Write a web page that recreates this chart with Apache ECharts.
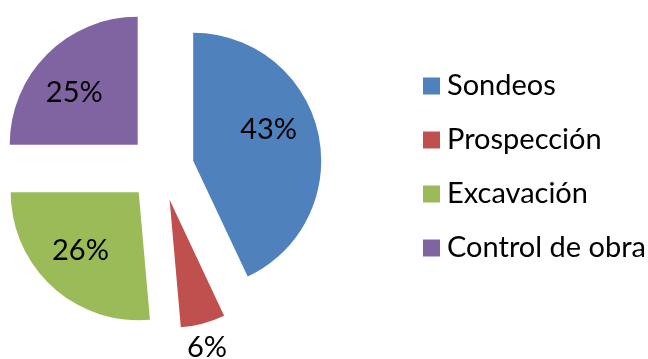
<!DOCTYPE html>
<html><head><meta charset="utf-8">
<script src="https://cdn.jsdelivr.net/npm/echarts@6/dist/echarts.min.js"></script>
<style>html,body{margin:0;padding:0;background:#fff}#c{width:648px;height:359px}</style>
</head><body><div id="c"></div>
<script>
const categories = ['Sondeos', 'Prospección', 'Excavación', 'Control de obra'];
const values = [43.0, 5.6, 26.4, 25.0];

const palette = ['#4F81BD', '#C0504D', '#9BBB59', '#8064A2'];
const FONT = 'Lato';
const FS = 29;
const center = [161, 168];
const R = 128;
const OFFSET = 33;
// label nudges from the default inside position
const labelShift = [[10, -17], [20, 83], [-13, 9], [-16, -5]];

const chart = echarts.init(document.getElementById('c'), null, {renderer: 'canvas'});

chart.setOption({
  animation: false,
  color: palette,
  legend: {
    orient: 'vertical', left: 418, top: 64,
    itemWidth: 17, itemHeight: 17, itemGap: 20, icon: 'rect',
    selectedMode: false,
    data: categories,
    textStyle: {fontFamily: FONT, fontSize: FS, color: '#000', lineHeight: 34, padding: [0, 0, 0, 2]}
  },
  series: [{
    type: 'pie', name: 'main', center: center, radius: R,
    startAngle: 90, clockwise: true,
    selectedMode: 'multiple', selectedOffset: OFFSET,
    avoidLabelOverlap: false, animation: false,
    emphasis: {disabled: true},
    itemStyle: {borderWidth: 0},
    select: {itemStyle: {borderWidth: 0}},
    labelLine: {show: false},
    label: {
      show: true, position: 'inside',
      fontFamily: FONT, fontSize: FS, color: '#000',
      formatter: p => Math.round(p.value) + '%'
    },
    labelLayout: p => ({dx: labelShift[p.dataIndex][0], dy: labelShift[p.dataIndex][1]}),
    data: categories.map((n, i) => ({name: n, value: values[i], selected: true}))
  }]
});
</script>
</body></html>
